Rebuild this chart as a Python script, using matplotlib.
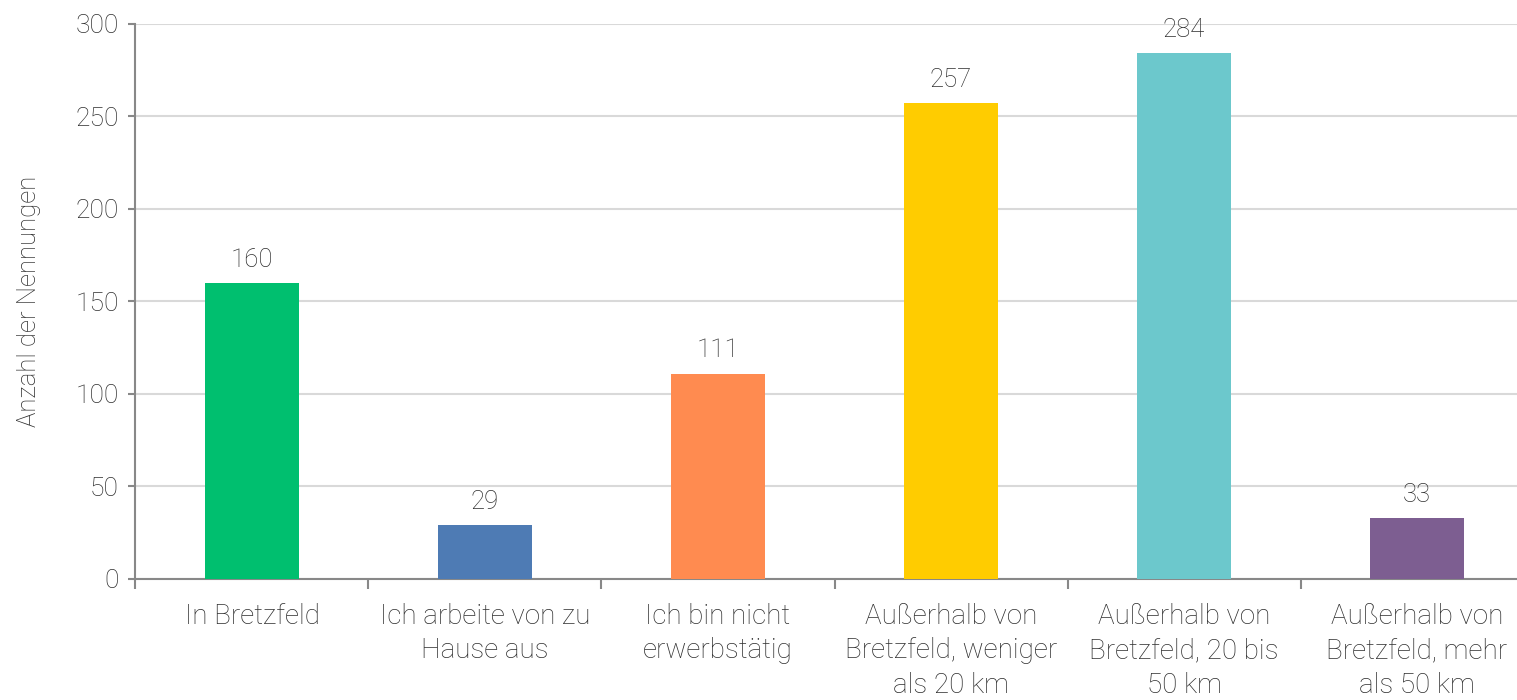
import numpy as np
import matplotlib.pyplot as plt

# Daten
kategorien = ["In Bretzfeld", "Ich arbeite von zu\nHause aus", "Ich bin nicht\nerwerbstätig",
              "Außerhalb von\nBretzfeld, weniger\nals 20 km", "Außerhalb von\nBretzfeld, 20 bis\n50 km",
              "Außerhalb von\nBretzfeld, mehr\nals 50 km"]
werte = [160, 29, 111, 257, 284, 33]
farben = ["#00BF6F", "#4E7BB4", "#FF8B50", "#FFCC00", "#6CC8CC", "#7D5E91"]

plt.rcParams['font.family'] = ['Roboto', 'DejaVu Sans']
textfarbe = "#2e2e2e"

fig = plt.figure(figsize=(15.17, 7), dpi=100)
ax = fig.add_axes([0.0893, 0.173, 0.9216, 0.793])

x = np.arange(len(werte))
ax.bar(x, werte, width=0.4, color=farben, zorder=3)

for xi, w in zip(x, werte):
    ax.annotate(str(w), (xi, w), xytext=(0, 8), textcoords="offset points",
                ha="center", va="bottom", fontsize=18.5, color=textfarbe, fontweight="light")

ax.set_xlim(-0.5, len(werte) - 0.5)
ax.set_ylim(0, 300)
ax.set_yticks(np.arange(0, 301, 50))
ax.set_xticks(x)
ax.set_xticklabels(kategorien, fontsize=20, color=textfarbe, linespacing=1.36, fontweight="light")
for lab in ax.get_yticklabels():
    lab.set_fontweight("light")
ax.set_xticks(np.arange(-0.5, len(werte)), minor=True)
ax.tick_params(axis="x", which="major", length=0, pad=17)
ax.tick_params(axis="x", which="minor", length=7, width=1.5, color="#888888")
ax.tick_params(axis="y", length=5, width=1.5, color="#888888", labelsize=19,
               labelcolor=textfarbe, pad=7)

ax.grid(axis="y", color="#d9d9d9", linewidth=1.5, zorder=0)
for s in ["top", "right"]:
    ax.spines[s].set_visible(False)
for s in ["left", "bottom"]:
    ax.spines[s].set_color("#888888")
    ax.spines[s].set_linewidth(1.5)

ax.set_ylabel("Anzahl der Nennungen", fontsize=18.5, color=textfarbe, labelpad=25,
              fontweight="light")

fig.savefig("out.png", dpi=100)
